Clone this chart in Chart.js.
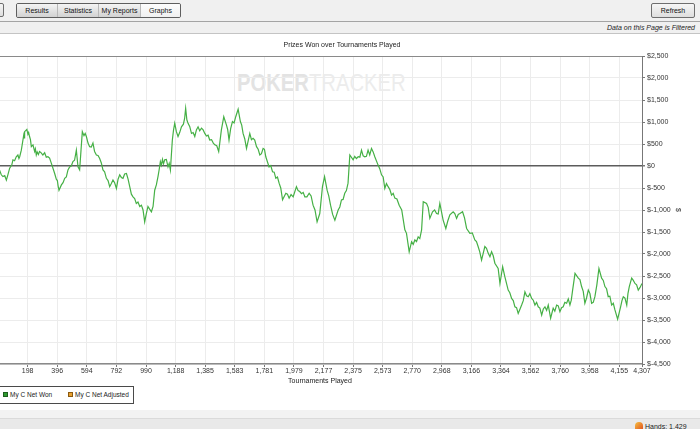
<!DOCTYPE html>
<html><head><meta charset="utf-8">
<script src="https://cdn.jsdelivr.net/npm/chart.js@4.4.1/dist/chart.umd.min.js"></script>
<style>
html,body{margin:0;padding:0;}
body{width:700px;height:429px;position:relative;overflow:hidden;background:#ececec;font-family:"Liberation Sans",Arial,sans-serif;color:#111;}
#toolbar{position:absolute;left:0;top:0;width:700px;height:21px;background:#f0f0f0;border-bottom:1px solid #a4a4a4;}
.btn{position:absolute;top:3px;height:14px;box-sizing:border-box;border:1px solid #6e6e6e;border-radius:2px;font-size:7px;line-height:12px;text-align:center;background:linear-gradient(#f6f6f6,#dedede);}
#group{position:absolute;left:16px;top:3px;width:165px;height:15px;box-sizing:border-box;border:1px solid #5e5e5e;border-radius:2px;overflow:hidden;}
#group div{position:absolute;top:0;height:13px;font-size:7px;line-height:13px;text-align:center;box-sizing:border-box;border-right:1px solid #b8b8b8;background:linear-gradient(#f4f4f4,#d2d2d2);}
#group div.act{background:linear-gradient(#fdfdfd,#f0f0f0);border-right:none;}
#filterbar{position:absolute;left:0;top:22px;width:700px;height:11px;background:#f0f0f0;border-bottom:1px solid #c4c4c4;}
#filterbar span{position:absolute;right:5px;top:0;font-size:7px;line-height:11px;font-style:italic;color:#222;}
#panel{position:absolute;left:0;top:34px;width:700px;height:376px;background:#fff;}
#wm{position:absolute;left:237px;top:72px;font-size:23px;line-height:23px;white-space:nowrap;transform:scaleX(0.88);transform-origin:left top;}
#wm .b{font-weight:bold;color:#e3e3e3;}
#wm .t{color:#ececec;}
#chartbox{position:absolute;left:-2px;top:34px;width:688px;height:352px;}
#legend{position:absolute;left:-1px;top:386px;width:135px;height:18px;box-sizing:border-box;border:1px solid #4a4a4a;background:#fff;font-size:6.5px;color:#222;}
.li{position:absolute;top:0;line-height:16px;white-space:nowrap;}
.sw{display:inline-block;width:3px;height:3px;border:1px solid;vertical-align:middle;margin-right:2px;position:relative;top:-1px;}
#sep{position:absolute;left:0;top:410px;width:700px;height:8px;background:#f2f2f2;}
#status{position:absolute;left:0;top:418px;width:700px;height:11px;background:#e9e9e9;border-top:1px solid #dadada;}
#hands{position:absolute;left:645px;top:3px;font-size:7px;line-height:9px;color:#222;}
#icon{position:absolute;left:635px;top:3px;width:8px;height:8px;border-radius:50% 50% 0 0;background:linear-gradient(135deg,#f5c040,#e05020);}
</style></head>
<body>
<div id="toolbar">
  <div class="btn" style="left:-10px;width:14px;"></div>
  <div id="group">
    <div style="left:0;width:41px;">Results</div>
    <div style="left:41px;width:41px;">Statistics</div>
    <div style="left:82px;width:42px;">My Reports</div>
    <div class="act" style="left:124px;width:39px;">Graphs</div>
  </div>
  <div class="btn" style="left:651px;width:44px;top:3px;height:15px;line-height:13px;">Refresh</div>
</div>
<div id="filterbar"><span>Data on this Page is Filtered</span></div>
<div id="panel"></div>
<div id="wm"><span class="b">POKER</span><span class="t">TRACKER</span></div>
<div id="chartbox"><canvas id="c"></canvas></div>
<div id="legend"></div>
<div id="sep"></div>
<div id="status"><div id="icon"></div><div id="hands">Hands: 1,429</div></div>
<script>
// ---- data ----
const chartTitle = 'Prizes Won over Tournaments Played';
const xAxisTitle = 'Tournaments Played';
const yAxisTitle = '$';
const seriesNames = ['My C Net Won', 'My C Net Adjusted'];
const seriesColors = ['#2f9a2f', '#e8a030'];
// main turning points
const tournaments = [0,22,33,56,66,78,100,122,145,156,
178,193,211,223,234,256,278,300,334,357,
379,408,424,446,479,501,524,535,546,564,
591,613,635,658,680,702,725,747,769,792,
814,836,859,881,903,925,948,959,981,1003,
1026,1037,1048,1070,1086,1115,1137,1153,1166,1182,
1204,1227,1255,1271,1294,1316,1338,1361,1383,1416,
1450,1476,1494,1510,1528,1545,1568,1590,1606,1621,
1639,1662,1684,1706,1729,1751,1773,1791,1813,1836,
1858,1880,1903,1925,1947,1974,1996,2018,2052,2081,
2107,2134,2152,2170,2184,2201,2224,2253,2275,2297,
2319,2341,2353,2375,2409,2431,2453,2475,2498,2520,
2542,2565,2587,2609,2632,2654,2683,2721,2732,2750,
2766,2788,2810,2833,2844,2866,2888,2906,2933,2955,
2977,2995,3022,3044,3067,3089,3107,3134,3156,3189,
3211,3234,3256,3278,3301,3323,3345,3357,3375,3390,
3412,3435,3457,3479,3502,3524,3546,3569,3591,3613,
3636,3658,3680,3696,3713,3736,3758,3780,3803,3825,
3843,3859,3881,3903,3925,3948,3970,3992,4019,4037,
4059,4081,4104,4126,4144,4164,4182,4205,4222,4238,
4260,4282,4307];
const netWon = [0,-200,-240,-320,-200,-50,140,210,210,360,
780,830,670,440,480,250,330,250,210,60,
-170,-550,-430,-280,-20,100,360,-20,-90,780,
670,440,520,250,170,-90,-280,-470,-320,-510,
-200,-280,-170,-470,-700,-850,-920,-890,-1270,-920,
-1040,-920,-550,-240,100,140,-20,-90,590,970,
670,890,1310,970,740,670,890,860,740,590,
480,330,820,1120,930,590,1010,1120,1290,1010,
740,400,740,630,440,250,400,210,-20,-130,
-280,-390,-770,-620,-730,-700,-470,-580,-700,-620,
-890,-1270,-1080,-470,-240,-550,-890,-1230,-1000,-770,
-620,-390,250,140,210,360,210,360,400,210,
20,-200,-510,-470,-660,-730,-890,-1450,-1530,-1950,
-1720,-1680,-1610,-1450,-810,-850,-1190,-1040,-1080,-850,
-1230,-1420,-1110,-1040,-1190,-1080,-1040,-1420,-1530,-1680,
-1830,-2140,-1830,-1980,-1950,-2210,-2330,-2670,-2290,-2520,
-2820,-3010,-3200,-3350,-3160,-2860,-2970,-3010,-3160,-3200,
-3390,-3200,-3160,-3460,-3230,-3160,-3310,-3200,-3120,-3160,
-2820,-2440,-2550,-2740,-3120,-2820,-3120,-2970,-2330,-2550,
-2740,-2970,-3160,-3270,-3480,-3200,-2970,-3160,-2740,-2550,
-2670,-2820,-2670];
// smaller wiggles between the turning points
const detailTournaments = [45,92,111,133,140,172,175,200,205,217,
245,250,262,270,289,312,323,345,390,397,
402,435,457,468,490,512,555,575,583,602,
624,646,669,691,713,736,758,780,803,825,
847,870,892,914,936,970,992,1014,1059,1078,
1093,1100,1107,1126,1145,1174,1193,1215,1240,1248,
1263,1282,1305,1327,1349,1372,1394,1405,1428,1440,
1463,1536,1556,1579,1630,1650,1695,1717,1740,1762,
1782,1824,1847,1869,1891,1936,1960,2007,2030,2041,
2066,2094,2120,2212,2238,2286,2308,2330,2386,2397,
2420,2442,2464,2486,2509,2553,2576,2598,2620,2643,
2668,2700,2777,2799,2821,2877,2920,2944,3008,3055,
3078,3120,3172,3200,3222,3267,3290,3312,3423,3446,
3468,3490,3513,3535,3557,3580,3602,3624,3647,3669,
3724,3747,3769,3791,3814,3834,3892,3914,3936,3959,
3981,4005,4048,4070,4092,4115,4173,4193,4213,4249,
4271,4294];
const detailNetWon = [-220,20,120,250,170,700,640,720,760,600,
330,390,320,260,300,300,200,180,-300,-330,
-450,-380,-250,-90,0,130,350,690,740,520,
430,330,240,70,-130,-330,-400,-380,-300,-260,
-180,-300,-640,-740,-820,-1000,-1080,-980,-430,-80,
20,150,50,150,60,820,780,760,950,1080,
1050,900,760,820,800,820,680,700,600,520,
460,830,850,980,930,620,600,590,380,280,
380,10,-140,-250,-500,-640,-650,-560,-630,-600,
-700,-680,-1000,-680,-1100,-930,-760,-560,220,170,
200,230,220,250,320,-60,-250,-400,-530,-620,
-750,-1000,-1780,-1720,-1650,-940,-1000,-1090,-1250,-1080,
-1100,-1180,-1520,-1720,-1950,-1870,-2060,-2040,-2880,-3060,
-3220,-3260,-3060,-2950,-2900,-3050,-3100,-3230,-3250,-3280,
-3300,-3180,-3220,-3100,-3020,-3050,-2580,-2850,-3000,-2900,
-3100,-2700,-2600,-2790,-2960,-3120,-3060,-3000,-2900,-2600,
-2700,-2760];
const xTickValues = [198,396,594,792,990,1188,1385,1583,1781,1979,2177,2375,2573,2770,2968,3166,3364,3562,3760,3958,4155,4307];
const xTickLabels = ['198','396','594','792','990','1,188','1,385','1,583','1,781','1,979','2,177','2,375','2,573','2,770','2,968','3,166','3,364','3,562','3,760','3,958','4,155','4,307'];
const yMin = -4500, yMax = 2500, yStep = 500;

// ---- legend (html) ----
const legendEl = document.getElementById('legend');
const legendX = [3, 68];
seriesNames.forEach((n, i) => {
  const d = document.createElement('div');
  d.className = 'li';
  d.style.left = legendX[i] + 'px';
  const sw = document.createElement('span');
  sw.className = 'sw';
  sw.style.background = seriesColors[i];
  sw.style.borderColor = i === 0 ? '#1d5e1d' : '#8a5a10';
  d.appendChild(sw);
  d.appendChild(document.createTextNode(n));
  legendEl.appendChild(d);
});

const points = tournaments.map((t, i) => ({x: t, y: netWon[i]}))
  .concat(detailTournaments.map((t, i) => ({x: t, y: detailNetWon[i]})))
  .sort((a, b) => a.x - b.x);

const fmtMoney = v => '$' + Number(v).toLocaleString('en-US');
const FONT = {family: "'Liberation Sans', Arial, sans-serif", size: 7};

new Chart(document.getElementById('c'), {
  type: 'line',
  data: {
    datasets: [{
      label: seriesNames[0],
      data: points,
      borderColor: '#45b045',
      borderWidth: 1.2,
      pointRadius: 0,
      tension: 0,
      fill: false
    }]
  },
  options: {
    responsive: true,
    maintainAspectRatio: false,
    devicePixelRatio: 1,
    animation: false,
    layout: {padding: 0},
    plugins: {
      legend: {display: false},
      tooltip: {enabled: false},
      title: {display: true, text: chartTitle, color: '#222', font: {...FONT, weight: 'normal'}, padding: {top: 6.5, bottom: 7.1}}
    },
    scales: {
      x: {
        type: 'linear', min: 0, max: 4307,
        afterBuildTicks: s => { s.ticks = xTickValues.map(v => ({value: v})); },
        afterFit: s => { s.height = 22; },
        ticks: {autoSkip: false, maxRotation: 0, padding: 0, color: '#333', font: FONT,
          callback: (v, i) => xTickLabels[i]},
        grid: {color: '#ececec', tickColor: '#777', tickLength: 3, lineWidth: 1},
        border: {display: true, color: '#8a8a8a', width: 1.5},
        title: {display: true, text: xAxisTitle, color: '#222', font: FONT, padding: {top: 0, bottom: 1}}
      },
      y: {
        position: 'right', min: yMin, max: yMax,
        afterFit: s => { s.width = 44; },
        ticks: {stepSize: yStep, padding: 2, color: '#333', font: FONT, callback: v => fmtMoney(v)},
        grid: {
          color: c => c.tick && c.tick.value === 0 ? '#5c5c5c' : (c.tick && c.tick.value === yMax ? '#8a8a8a' : '#ececec'),
          lineWidth: c => c.tick && c.tick.value === 0 ? 1.5 : 1,
          tickColor: '#777', tickLength: 3
        },
        border: {display: true, color: '#777', width: 1},
        title: {display: true, text: yAxisTitle, color: '#333', font: FONT, padding: {top: 4, bottom: 0}}
      }
    }
  }
});
</script>
</body></html>
